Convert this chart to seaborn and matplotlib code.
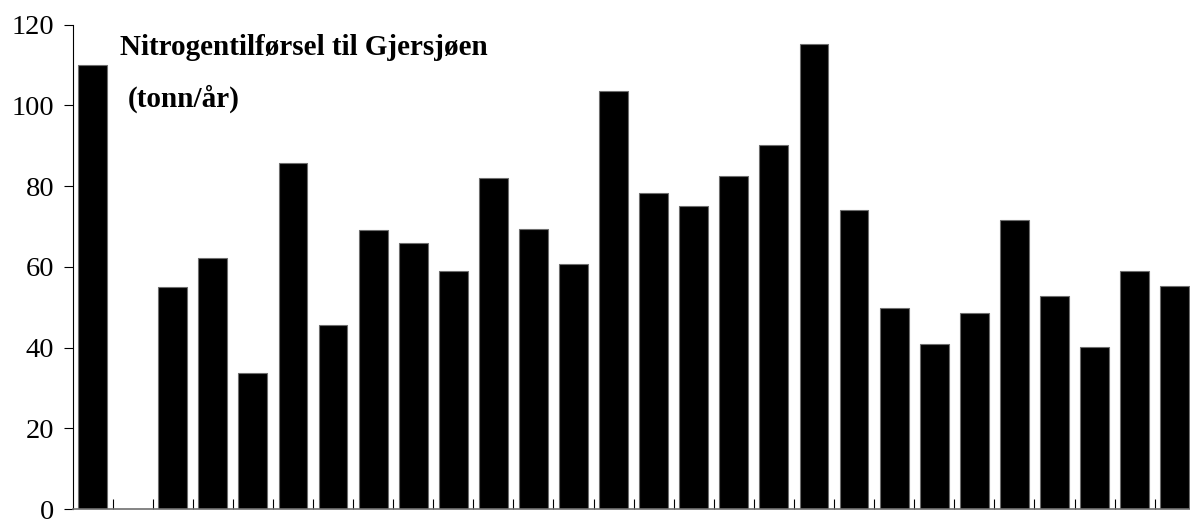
import numpy as np
import pandas as pd
import matplotlib
matplotlib.use("Agg")
import matplotlib.pyplot as plt
import seaborn as sns

# one slot per year, the second one has no measurement
slots = [str(i) for i in range(1, 29)]
nitrogen = [110.0, np.nan, 55.0, 62.2, 33.6, 85.7, 45.7, 69.2, 65.8, 59.0,
            82.0, 69.3, 60.6, 103.5, 78.4, 75.0, 82.6, 90.2, 115.1, 74.2,
            49.7, 40.8, 48.7, 71.5, 52.9, 40.1, 58.9, 55.3]
y_ticks = [0, 20, 40, 60, 80, 100, 120]

title_line1 = "Nitrogentilførsel til Gjersjøen"
title_line2 = "(tonn/år)"

df = pd.DataFrame({"slot": slots, "tonn": nitrogen})

sns.set_style("white")
plt.rcParams["font.family"] = ["Liberation Serif", "DejaVu Serif"]
plt.rcParams["text.color"] = "black"
plt.rcParams["xtick.color"] = "black"
plt.rcParams["ytick.color"] = "black"

W, H = 1190, 522
fig = plt.figure(figsize=(W / 100, H / 100), dpi=100)
left, right = 72.5, 72.5 + 28 * 40.08
top, bottom = 24.7, 509.1
ax = fig.add_axes([left / W, 1 - bottom / H, (right - left) / W, (bottom - top) / H])

sns.barplot(data=df, x="slot", y="tonn", order=slots, color="black",
            saturation=1, width=0.72, edgecolor="#6e6e6e", linewidth=0.8,
            errorbar=None, ax=ax)

ax.set_xlim(-0.5, len(slots) - 0.5)
ax.set_ylim(0, 120)
ax.set_yticks(y_ticks)
ax.set_xlabel("")
ax.set_ylabel("")

# no category labels, only small inward ticks between the bars
ax.set_xticks([])
ax.set_xticks(np.arange(len(slots)) + 0.5, minor=True)
ax.tick_params(axis="x", which="minor", direction="in", length=7.2,
               width=0.8, color="black", bottom=True)
ax.tick_params(axis="y", direction="out", length=6.5, width=0.8,
               color="black", labelcolor="black", pad=6.5, labelsize=20.5,
               left=True)

for s in ["top", "right"]:
    ax.spines[s].set_visible(False)
ax.spines["left"].set_color("black")
ax.spines["left"].set_linewidth(0.8)
ax.spines["bottom"].set_color("#707070")
ax.spines["bottom"].set_linewidth(1.2)

fig.text(120.5 / W, 1 - 55 / H, title_line1, fontsize=21, fontweight="bold",
         color="black", ha="left", va="baseline")
fig.text(128 / W, 1 - 107 / H, title_line2, fontsize=21, fontweight="bold",
         color="black", ha="left", va="baseline")

fig.savefig("out.png", dpi=100, facecolor="white")
